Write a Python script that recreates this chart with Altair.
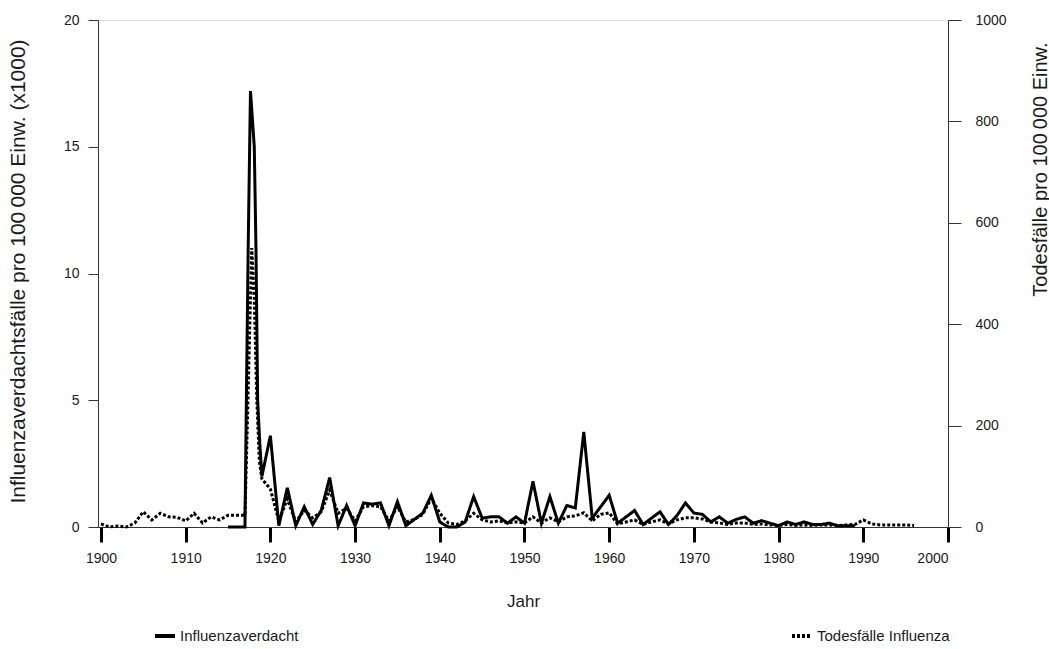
import altair as alt
import pandas as pd

# Influenzaverdachtsfälle pro 100 000 Einw. (x1000) - left axis
inf_years = [1915, 1916, 1917, 1917.2, 1917.4, 1917.65, 1918.1, 1918.3, 1918.5, 1918.75,
             1919, 1920, 1921, 1922, 1923, 1924, 1925, 1926, 1927, 1928, 1929, 1930,
             1931, 1932, 1933, 1934, 1935, 1936, 1937, 1938, 1939, 1940, 1941, 1942,
             1943, 1944, 1945, 1946, 1947, 1948, 1949, 1950, 1951, 1952, 1953, 1954,
             1955, 1956, 1957, 1958, 1959, 1960, 1961, 1962, 1963, 1964, 1965, 1966,
             1967, 1968, 1969, 1970, 1971, 1972, 1973, 1974, 1975, 1976, 1977, 1978,
             1979, 1980, 1981, 1982, 1983, 1984, 1985, 1986, 1987, 1988, 1989]
inf_values = [0, 0, 0, 6.0, 11.5, 17.2, 15.0, 11.0, 5.0, 3.3,
              2.0, 3.6, 0.05, 1.55, 0.05, 0.8, 0.1, 0.65, 1.95, 0.05, 0.85, 0.05,
              0.95, 0.9, 0.95, 0.05, 1.0, 0.05, 0.3, 0.55, 1.25, 0.2, 0.0, 0.0,
              0.2, 1.2, 0.35, 0.4, 0.4, 0.15, 0.4, 0.15, 1.8, 0.15, 1.2, 0.15,
              0.85, 0.75, 3.75, 0.35, 0.8, 1.25, 0.15, 0.4, 0.65, 0.1, 0.35, 0.6,
              0.1, 0.45, 0.95, 0.55, 0.5, 0.2, 0.4, 0.15, 0.3, 0.4, 0.15, 0.25,
              0.15, 0.05, 0.2, 0.1, 0.2, 0.1, 0.1, 0.15, 0.05, 0.05, 0.05]

# Todesfälle pro 100 000 Einw. - right axis
tod_years = [1900, 1901, 1902, 1903, 1904, 1905, 1906, 1907, 1908, 1909, 1910, 1911,
             1912, 1913, 1914, 1915, 1916, 1917, 1917.2, 1917.5, 1917.8, 1918.1,
             1918.4, 1918.7, 1919, 1920, 1921, 1922, 1923, 1924, 1925, 1926, 1927,
             1928, 1929, 1930, 1931, 1932, 1933, 1934, 1935, 1936, 1937, 1938, 1939,
             1940, 1941, 1942, 1943, 1944, 1945, 1946, 1947, 1948, 1949, 1950, 1951,
             1952, 1953, 1954, 1955, 1956, 1957, 1958, 1959, 1960, 1961, 1962, 1963,
             1964, 1965, 1966, 1967, 1968, 1969, 1970, 1971, 1972, 1973, 1974, 1975,
             1976, 1977, 1978, 1979, 1980, 1981, 1982, 1983, 1984, 1985, 1986, 1987,
             1988, 1989, 1990, 1991, 1992, 1993, 1994, 1995, 1996]
tod_values = [6, 0, 2, 0, 8, 30, 14, 27, 20, 19, 12, 27,
              8, 20, 14, 23, 23, 23, 150, 350, 550, 450,
              250, 130, 95, 75, 12, 55, 10, 33, 18, 30, 73,
              27, 37, 12, 40, 42, 40, 12, 40, 10, 15, 25, 57,
              27, 8, 5, 12, 27, 14, 10, 12, 8, 10, 8, 20,
              8, 18, 10, 20, 22, 28, 12, 25, 28, 6, 10, 14,
              5, 10, 14, 6, 14, 18, 18, 16, 10, 8, 5, 8,
              8, 5, 6, 4, 3, 5, 3, 4, 3, 4, 4, 3,
              4, 5, 14, 6, 4, 4, 4, 4, 3]

series_names = ["Influenzaverdacht", "Todesfälle Influenza"]
x_ticks = list(range(1900, 2001, 10))
left_ticks = [0, 5, 10, 15, 20]
right_ticks = [0, 200, 400, 600, 800, 1000]

df_s = pd.DataFrame({"Jahr": inf_years, "Wert": inf_values, "Reihe": series_names[0]})
df_t = pd.DataFrame({"Jahr": tod_years, "Wert": tod_values, "Reihe": series_names[1]})

FONT = "Liberation Sans"
TXT = "#1a1a1a"

x_enc = alt.X(
    "Jahr:Q",
    scale=alt.Scale(domain=[1899.65, 2000], nice=False, zero=False),
    axis=alt.Axis(values=x_ticks, format="d", title="Jahr", tickSize=15, tickWidth=3,
                  tickColor="black", domainColor="#333", domainWidth=1, labelPadding=9,
                  labelFontSize=14, labelFont=FONT, labelColor=TXT, grid=False,
                  titleFontSize=17, titleFont=FONT, titleColor=TXT, titleFontWeight="normal",
                  titleX=425, titleY=74, titleBaseline="middle"),
)

dash = alt.StrokeDash(
    "Reihe:N",
    scale=alt.Scale(domain=series_names, range=[[1, 0], [3, 2]]),
    legend=alt.Legend(orient="none", legendX=55, legendY=604, direction="horizontal",
                      title=None, symbolType="stroke", symbolSize=400, symbolStrokeWidth=4,
                      symbolStrokeColor="black", labelFontSize=15, labelFont=FONT,
                      labelColor=TXT, columnPadding=485, labelOffset=3),
)

solid = alt.Chart(df_s).mark_line(color="black", strokeWidth=3, strokeJoin="miter").encode(
    x=x_enc,
    y=alt.Y("Wert:Q", scale=alt.Scale(domain=[0, 20], nice=False),
            axis=alt.Axis(orient="left", values=left_ticks, tickSize=10, tickColor="#333",
                          domainColor="#333", labelPadding=9, labelFontSize=14,
                          labelFont=FONT, labelColor=TXT, grid=False,
                          title="Influenzaverdachtsfälle pro 100\u2009000 Einw. (x1000)",
                          titleFontSize=21, titleFont=FONT, titleColor=TXT,
                          titleFontWeight="normal", titleAngle=-90, titleX=-80, titleY=251,
                          titleAlign="center", titleBaseline="middle")),
    strokeDash=dash,
)

dotted = alt.Chart(df_t).mark_line(color="black", strokeWidth=3, strokeJoin="miter").encode(
    x=x_enc,
    y=alt.Y("Wert:Q", scale=alt.Scale(domain=[0, 1000], nice=False),
            axis=alt.Axis(orient="right", values=right_ticks, format="d", tickSize=13,
                          tickColor="#333", domainColor="#333", labelPadding=14,
                          labelFontSize=14, labelFont=FONT, labelColor=TXT, grid=False,
                          title="Todesfälle pro 100\u2009000 Einw.",
                          titleFontSize=20, titleFont=FONT, titleColor=TXT,
                          titleFontWeight="normal", titleAngle=-90, titleX=92, titleY=22,
                          titleAlign="right", titleBaseline="middle")),
    strokeDash=dash,
)

chart = alt.layer(solid, dotted).resolve_scale(y="independent").properties(
    width=850, height=507,
    autosize=alt.AutoSizeParams(type="none"),
    padding={"left": 98, "top": 20, "right": 101, "bottom": 122},
).configure_view(stroke=None).configure(background="white")

chart.save("out.html", embed_options={"renderer": "svg", "actions": False})
